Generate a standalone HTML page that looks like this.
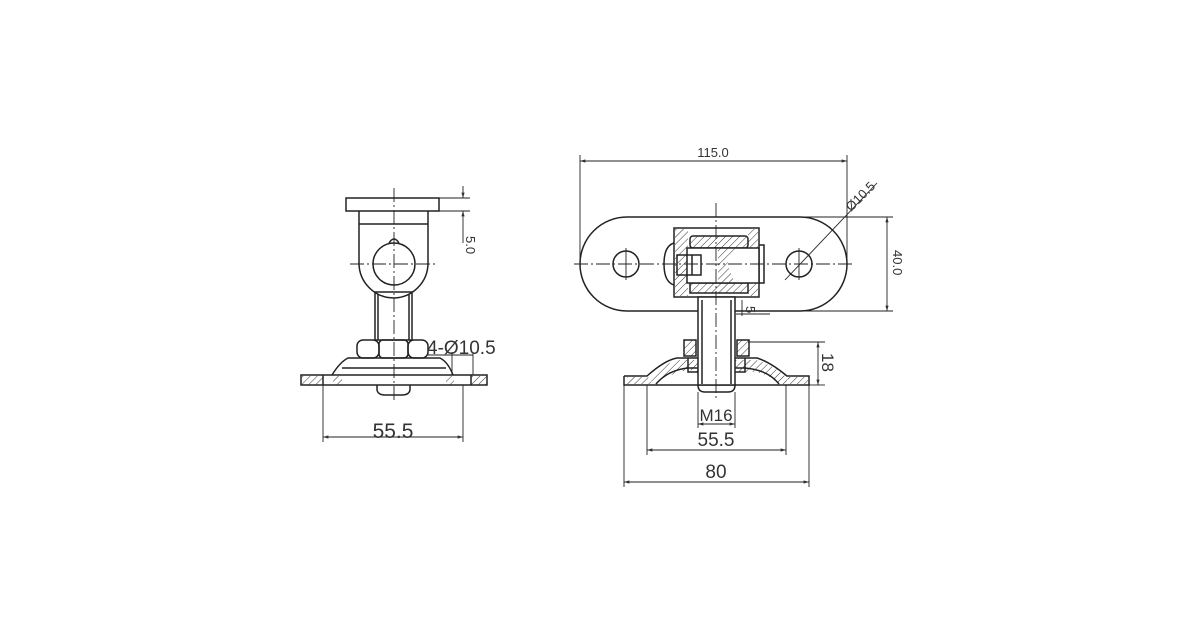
<!DOCTYPE html>
<html><head><meta charset="utf-8"><style>
html,body{margin:0;padding:0;background:#fff}
svg{display:block}
text{font-family:"Liberation Sans",sans-serif;fill:#333}
</style></head><body>
<svg width="1200" height="630" viewBox="0 0 1200 630" xmlns="http://www.w3.org/2000/svg">
<defs>
<pattern id="h" width="5" height="5" patternUnits="userSpaceOnUse" patternTransform="rotate(45)">
<line x1="0" y1="0" x2="0" y2="5" stroke="#333" stroke-width="1"/>
</pattern>
<marker id="a" viewBox="0 0 10 10" refX="10" refY="5" markerWidth="6" markerHeight="6" orient="auto-start-reverse"><path d="M0,2 L10,5 L0,8 z" fill="#333"/></marker>
</defs>
<g fill="none" stroke="#222" stroke-width="1.5">
<!-- LEFT VIEW -->
<rect x="346" y="198" width="93" height="13"/>
<path d="M359,211 V263 A35,35 0 0 0 394,298 A35,35 0 0 0 428,263 V211"/>
<line x1="359" y1="224" x2="428" y2="224"/>
<circle cx="394" cy="264" r="21"/>
<path d="M389,243 Q394,235 399,243"/>
<rect x="375" y="292" width="37" height="48"/>
<line x1="378" y1="294" x2="378" y2="340"/><line x1="409" y1="294" x2="409" y2="340"/>
<rect x="357" y="340" width="22" height="18" rx="6"/><rect x="379" y="340" width="29" height="18" rx="4"/><rect x="408" y="340" width="20" height="18" rx="6"/>
<path d="M332,375 Q340,362 348,358 H440 Q448,362 453,375"/>
<line x1="342" y1="368" x2="446" y2="368"/>
<rect x="301" y="375" width="186" height="10"/>
<rect x="302" y="376" width="21" height="9" fill="url(#h)" stroke="none"/>
<rect x="471" y="376" width="16" height="9" fill="url(#h)" stroke="none"/>
<rect x="333" y="376" width="9" height="9" fill="url(#h)" stroke="none"/>
<rect x="446" y="376" width="8" height="9" fill="url(#h)" stroke="none"/>
<line x1="323" y1="375" x2="323" y2="385"/><line x1="471" y1="375" x2="471" y2="385"/>
<path d="M377,385 V390 Q378,395 385,395 H402 Q409,395 410,390 V385"/>
<g stroke-width="0.9">
<line x1="394" y1="188" x2="394" y2="402" stroke-dasharray="14,3,2,3"/>
<line x1="350" y1="264" x2="437" y2="264" stroke-dasharray="14,3,2,3"/>
<line x1="323" y1="385" x2="323" y2="442"/><line x1="463" y1="385" x2="463" y2="442"/>
<line x1="323" y1="437" x2="463" y2="437" marker-start="url(#a)" marker-end="url(#a)"/>
<line x1="439" y1="198" x2="470" y2="198"/><line x1="439" y1="211" x2="470" y2="211"/>
<line x1="463" y1="186" x2="463" y2="198" marker-end="url(#a)"/>
<line x1="463" y1="243" x2="463" y2="211" marker-end="url(#a)"/>
<line x1="452" y1="352" x2="452" y2="375"/><line x1="473" y1="352" x2="473" y2="375"/>
<line x1="428" y1="355" x2="473" y2="355"/>
</g>
<!-- RIGHT VIEW -->
<path d="M627,217 H800 A47,47 0 0 1 800,311 H627 A47,47 0 0 1 627,217 Z"/>
<circle cx="626" cy="264" r="13"/><circle cx="799" cy="264" r="13"/>
<rect x="674" y="228" width="85" height="69" fill="#fff"/>
<rect x="675" y="229" width="13" height="67" fill="url(#h)" stroke="none"/>
<rect x="748" y="229" width="10" height="67" fill="url(#h)" stroke="none"/>
<rect x="690" y="236" width="58" height="12" rx="3" fill="url(#h)"/>
<rect x="690" y="283" width="58" height="10" fill="url(#h)"/>
<rect x="687" y="248" width="72" height="35" fill="#fff"/>
<path d="M718,248 H735 L727,264 L735,283 H718 Z" fill="url(#h)" stroke="none"/>
<rect x="677" y="255" width="24" height="20"/>
<line x1="692" y1="255" x2="692" y2="275"/>
<path d="M674,243 Q664,246 664,264 Q664,282 674,285"/>
<path d="M759,245 H764 V283 H759"/>
<path d="M650,377 Q666,362 680,360 H698 V372 L690,370 Q670,372 660,384 H652 Z" fill="url(#h)" stroke="none"/>
<path d="M735,360 H756 Q772,364 786,377 L788,384 H778 Q765,370 744,372 L735,372 Z" fill="url(#h)" stroke="none"/>
<path d="M627,377 H648 L652,384 H627 Z" fill="url(#h)" stroke="none"/>
<path d="M786,377 H808 V384 H790 Z" fill="url(#h)" stroke="none"/>
<path d="M624,376 H647 Q665,360 677,358 H698"/>
<path d="M735,358 H757 Q770,362 787,376 H809 V385 H624 V376"/>
<path d="M656,384 Q668,370 688,368 H698 M735,368 H745 Q768,370 779,384"/>
<rect x="698" y="297" width="37" height="88" fill="#fff"/>
<path d="M698,385 Q698,392 705,392 H728 Q735,392 735,385" />
<line x1="702" y1="300" x2="702" y2="384"/><line x1="731" y1="300" x2="731" y2="384"/>
<rect x="684" y="340" width="12" height="16" fill="url(#h)"/>
<rect x="737" y="340" width="12" height="16" fill="url(#h)"/>
<path d="M688,358 V372 H698 M745,358 V372 H735"/>
<g stroke-width="0.9">
<line x1="574" y1="264" x2="855" y2="264" stroke-dasharray="14,3,2,3"/>
<line x1="716" y1="203" x2="716" y2="398" stroke-dasharray="14,3,2,3"/>
<line x1="626" y1="248" x2="626" y2="280"/><line x1="799" y1="248" x2="799" y2="280"/>
<line x1="580" y1="155" x2="580" y2="264"/><line x1="847" y1="155" x2="847" y2="262"/>
<line x1="580" y1="161" x2="847" y2="161" marker-start="url(#a)" marker-end="url(#a)"/>
<line x1="785" y1="280" x2="877" y2="183"/>
<line x1="800" y1="217" x2="893" y2="217"/><line x1="800" y1="311" x2="893" y2="311"/>
<line x1="887" y1="217" x2="887" y2="311" marker-start="url(#a)" marker-end="url(#a)"/>
<line x1="748" y1="342" x2="825" y2="342"/><line x1="809" y1="385" x2="825" y2="385"/>
<line x1="818" y1="342" x2="818" y2="385" marker-start="url(#a)" marker-end="url(#a)"/>
<line x1="698" y1="392" x2="698" y2="428"/><line x1="735" y1="392" x2="735" y2="428"/>
<line x1="698" y1="424" x2="735" y2="424" marker-start="url(#a)" marker-end="url(#a)"/>
<line x1="647" y1="385" x2="647" y2="455"/><line x1="786" y1="385" x2="786" y2="455"/>
<line x1="647" y1="450" x2="786" y2="450" marker-start="url(#a)" marker-end="url(#a)"/>
<line x1="624" y1="385" x2="624" y2="487"/><line x1="809" y1="385" x2="809" y2="487"/>
<line x1="624" y1="482" x2="809" y2="482" marker-start="url(#a)" marker-end="url(#a)"/>
<line x1="736" y1="314" x2="770" y2="314"/><line x1="742" y1="300" x2="742" y2="316"/>
</g>
</g>
<text x="393" y="438" font-size="21" text-anchor="middle">55.5</text>
<text x="427" y="354" font-size="19">4-Ø10.5</text>
<text transform="translate(466,236) rotate(90)" font-size="13">5.0</text>
<text x="713" y="157" font-size="13" text-anchor="middle">115.0</text>
<text transform="translate(851,212) rotate(-45)" font-size="13">Ø10.5</text>
<text transform="translate(893,250) rotate(90)" font-size="13">40.0</text>
<text transform="translate(822,353) rotate(90)" font-size="17">18</text>
<text x="716" y="421" font-size="17" text-anchor="middle">M16</text>
<text x="716" y="446" font-size="19" text-anchor="middle">55.5</text>
<text x="716" y="478" font-size="19" text-anchor="middle">80</text>
<text transform="translate(746,306) rotate(90)" font-size="13">5</text>
</svg>
</body></html>
